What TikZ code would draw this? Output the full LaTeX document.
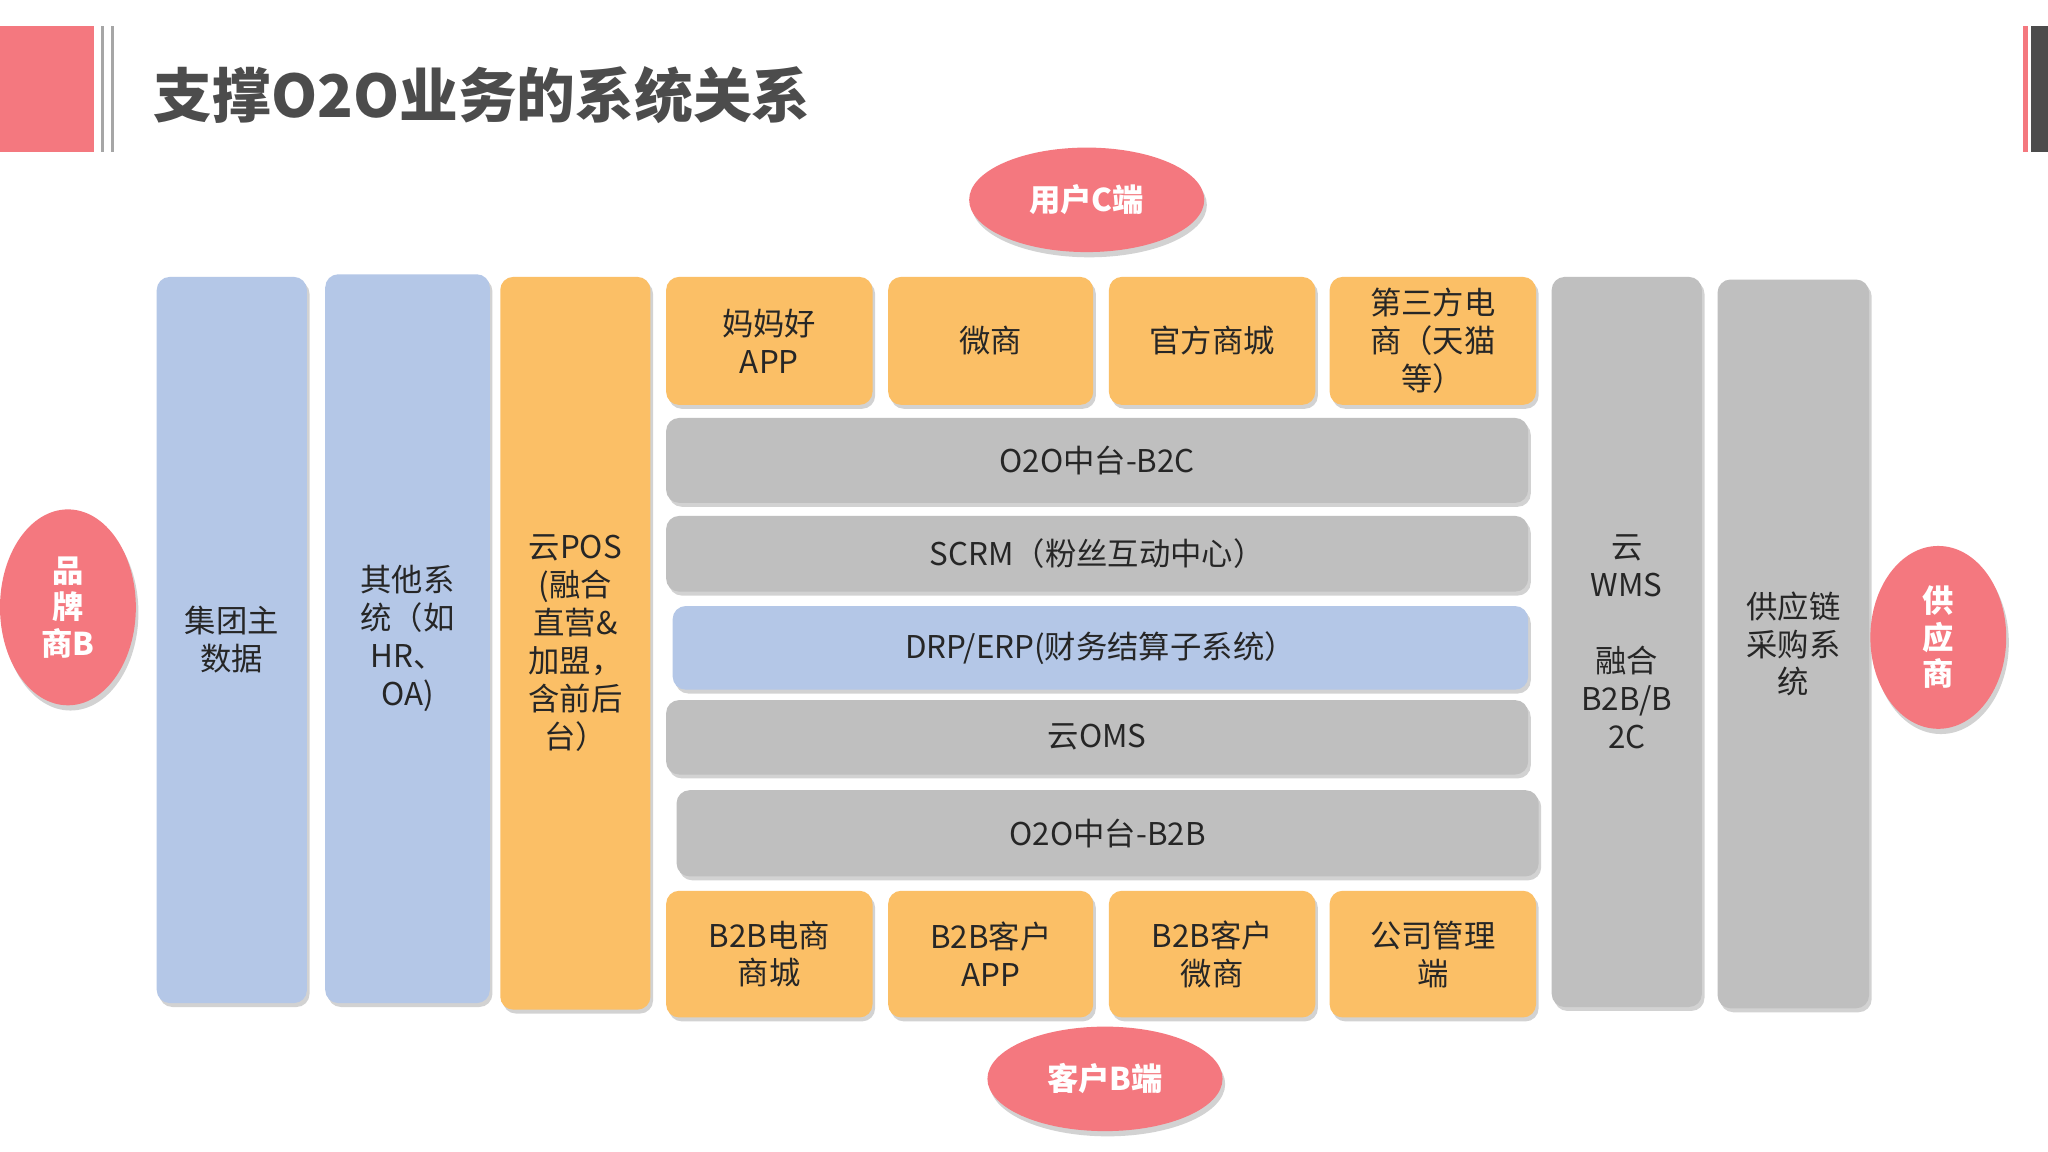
\documentclass[tikz,border=0pt]{standalone}
\usepackage{fontspec}
\setmainfont{Noto Sans CJK SC}
\usetikzlibrary{shadows,shapes.geometric}
\definecolor{pk}{HTML}{F4787F}
\definecolor{bl}{HTML}{B4C7E7}
\definecolor{og}{HTML}{FBBF66}
\definecolor{gy}{HTML}{BFBFBF}
\begin{document}
\begin{tikzpicture}[x=1pt,y=-1pt,
 bx/.style={rounded corners=10pt,draw=none,drop shadow={shadow xshift=2pt,shadow yshift=-3pt,opacity=0.35}},
 tx/.style={font=\fontsize{24}{29}\selectfont,text=black!85,align=center,inner sep=0pt},
 el/.style={ellipse,fill=pk,draw=none,drop shadow={shadow xshift=2pt,shadow yshift=-4pt,opacity=0.35},text=white,font=\bfseries\fontsize{24}{28}\selectfont,align=center}]
\path[use as bounding box,fill=white] (0,0) rectangle (1568,882);
\fill[pk] (0,20) rectangle (72,116);
\fill[gray!70] (77,20) rectangle (80,116);
\fill[gray!70] (85,20) rectangle (87,116);
\fill[pk] (1549,20) rectangle (1553,116);
\fill[black!70] (1555,20) rectangle (1568,116);
\node[anchor=west,text=black!70,font=\bfseries\fontsize{45}{50}\selectfont] (t) at (114,73) {支撑O2O业务的系统关系};
\def\B#1#2#3#4#5#6#7{\path[bx,fill=#6] (#2,#3) rectangle (#4,#5); \node[tx] (#1) at ({(#2+#4)/2},{(#3+#5)/2}) {#7};}
\B{a}{120}{212}{235}{768}{bl}{集团主\\数据}
\B{b}{249}{210}{375}{768}{bl}{其他系\\统（如\\HR、\\OA)}
\B{c}{383}{212}{498}{773}{og}{云POS\\(融合\\直营\&\\加盟，\\含前后\\台）}
\B{d1}{510}{212}{668}{310}{og}{妈妈好\\APP}
\B{d2}{680}{212}{837}{310}{og}{微商}
\B{d3}{849}{212}{1007}{310}{og}{官方商城}
\B{d4}{1018}{212}{1176}{310}{og}{第三方电\\商（天猫\\等）}
\B{e1}{510}{320}{1170}{385}{gy}{O2O中台-B2C}
\B{e2}{510}{395}{1170}{453}{gy}{SCRM（粉丝互动中心）}
\B{e3}{515}{464}{1170}{528}{bl}{DRP/ERP(财务结算子系统）}
\B{e4}{510}{536}{1170}{593}{gy}{云OMS}
\B{e5}{518}{605}{1178}{671}{gy}{O2O中台-B2B}
\B{f1}{510}{682}{668}{779}{og}{B2B电商\\商城}
\B{f2}{680}{682}{837}{779}{og}{B2B客户\\APP}
\B{f3}{849}{682}{1007}{779}{og}{B2B客户\\微商}
\B{f4}{1018}{682}{1176}{779}{og}{公司管理\\端}
\B{g}{1188}{212}{1303}{771}{gy}{云\\WMS\\[29pt]融合\\B2B/B\\2C}
\B{h}{1315}{214}{1431}{772}{gy}{供应链\\采购系\\统}
\node[el,minimum width=180pt,minimum height=80pt] (u) at (832,153) {用户C端};
\node[el,minimum width=180pt,minimum height=80pt] (k) at (846,826) {客户B端};
\node[el,minimum width=104pt,minimum height=150pt] (p) at (52,465) {品\\牌\\商B};
\node[el,minimum width=104pt,minimum height=140pt] (s) at (1484,488) {供\\应\\商};
\end{tikzpicture}
\end{document}
